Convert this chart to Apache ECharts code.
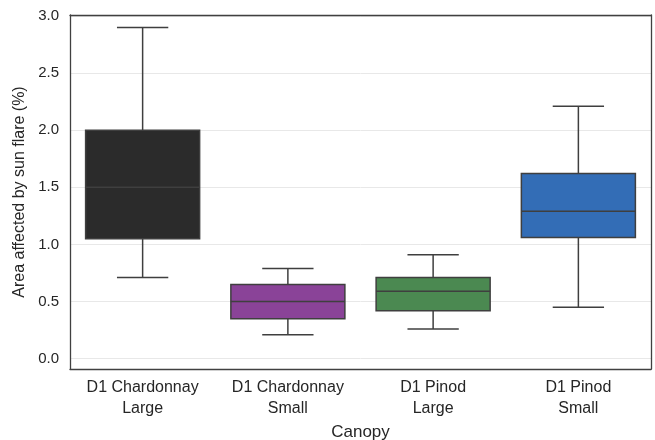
<!DOCTYPE html>
<html>
<head>
<meta charset="utf-8">
<script src="https://cdn.jsdelivr.net/npm/echarts@6/dist/echarts.min.js"></script>
<style>
	html, body { margin: 0; padding: 0; background: #fff; }
	#chart { width: 655px; height: 440px; }
</style>
</head>
<body>
<div id="chart"></div>
<script>
	var categories = ['D1 Chardonnay\nLarge', 'D1 Chardonnay\nSmall', 'D1 Pinod\nLarge', 'D1 Pinod\nSmall'];
	var whiskerLow = [0.71, 0.21, 0.26, 0.45];
	var q1 = [1.05, 0.35, 0.42, 1.06];
	var median = [1.50, 0.50, 0.59, 1.29];
	var q3 = [2.00, 0.65, 0.71, 1.62];
	var whiskerHigh = [2.90, 0.79, 0.91, 2.21];
	var boxColors = ['#2b2b2b', '#8a4398', '#4b8951', '#336db6'];

	var lineColor = '#3f3f3f';
	var frame = { show: true, onZero: false, lineStyle: { color: '#404040', width: 1.3 } };

	var data = categories.map(function(c, i){
		return [i, whiskerLow[i], q1[i], median[i], q3[i], whiskerHigh[i]];
	});

	function renderBox(params, api){
		var i = api.value(0);
		var low = api.coord([i, api.value(1)]);
		var bq1 = api.coord([i, api.value(2)]);
		var med = api.coord([i, api.value(3)]);
		var bq3 = api.coord([i, api.value(4)]);
		var high = api.coord([i, api.value(5)]);
		var band = api.size([1, 0])[0];
		var bw = band * 0.785;
		var cw = bw * 0.45;
		var x = low[0];
		var line = { stroke: lineColor, lineWidth: 1.5 };
		return {
			type: 'group',
			children: [
				{ type: 'line', shape: { x1: x, y1: high[1], x2: x, y2: bq3[1] }, style: line },
				{ type: 'line', shape: { x1: x, y1: bq1[1], x2: x, y2: low[1] }, style: line },
				{ type: 'line', shape: { x1: x - cw / 2, y1: high[1], x2: x + cw / 2, y2: high[1] }, style: line },
				{ type: 'line', shape: { x1: x - cw / 2, y1: low[1], x2: x + cw / 2, y2: low[1] }, style: line },
				{
					type: 'rect',
					shape: { x: x - bw / 2, y: bq3[1], width: bw, height: bq1[1] - bq3[1] },
					style: { fill: boxColors[i], stroke: lineColor, lineWidth: 1.5 }
				},
				{ type: 'line', shape: { x1: x - bw / 2, y1: med[1], x2: x + bw / 2, y2: med[1] }, style: line }
			]
		};
	}

	function tickLabel(v){
		var r = Math.round(v * 2) / 2;
		if(Math.abs(v - r) > 1e-6) return '';
		return r.toFixed(1);
	}

	var chart = echarts.init(document.getElementById('chart'), null, { renderer: 'canvas' });
	chart.setOption({
		animation: false,
		textStyle: { fontFamily: 'Liberation Sans, Arial, sans-serif' },
		grid: {
			left: 70,
			right: 4,
			top: 15,
			bottom: 71,
			outerBoundsMode: 'none',
			containLabel: false
		},
		xAxis: [{
			type: 'category',
			data: categories,
			boundaryGap: true,
			name: 'Canopy',
			nameLocation: 'middle',
			nameGap: 55,
			nameTextStyle: { fontSize: 17, color: '#262626' },
			axisLine: frame,
			axisTick: { show: false },
			axisLabel: { fontSize: 16, color: '#262626', lineHeight: 21, margin: 8, interval: 0 },
			splitLine: { show: false }
		}, {
			type: 'category',
			position: 'top',
			data: categories,
			axisLine: frame,
			axisTick: { show: false },
			axisLabel: { show: false },
			splitLine: { show: false }
		}],
		yAxis: [{
			type: 'value',
			min: -0.091,
			max: 3.009,
			splitNumber: 6,
			name: 'Area affected by sun flare (%)',
			nameLocation: 'middle',
			nameGap: 31,
			nameTextStyle: { fontSize: 16, color: '#262626' },
			axisLine: frame,
			axisTick: { show: false },
			axisLabel: { fontSize: 15, color: '#262626', margin: 11, formatter: tickLabel },
			splitLine: { show: true, showMinLine: false, showMaxLine: false, lineStyle: { color: '#e8e8e8', width: 1 } }
		}, {
			type: 'value',
			position: 'right',
			min: -0.091,
			max: 3.009,
			axisLine: frame,
			axisTick: { show: false },
			axisLabel: { show: false },
			splitLine: { show: false }
		}],
		series: [{
			type: 'custom',
			renderItem: renderBox,
			encode: { x: 0, y: [1, 2, 3, 4, 5] },
			data: data,
			z: 3
		}]
	});
</script>
</body>
</html>
